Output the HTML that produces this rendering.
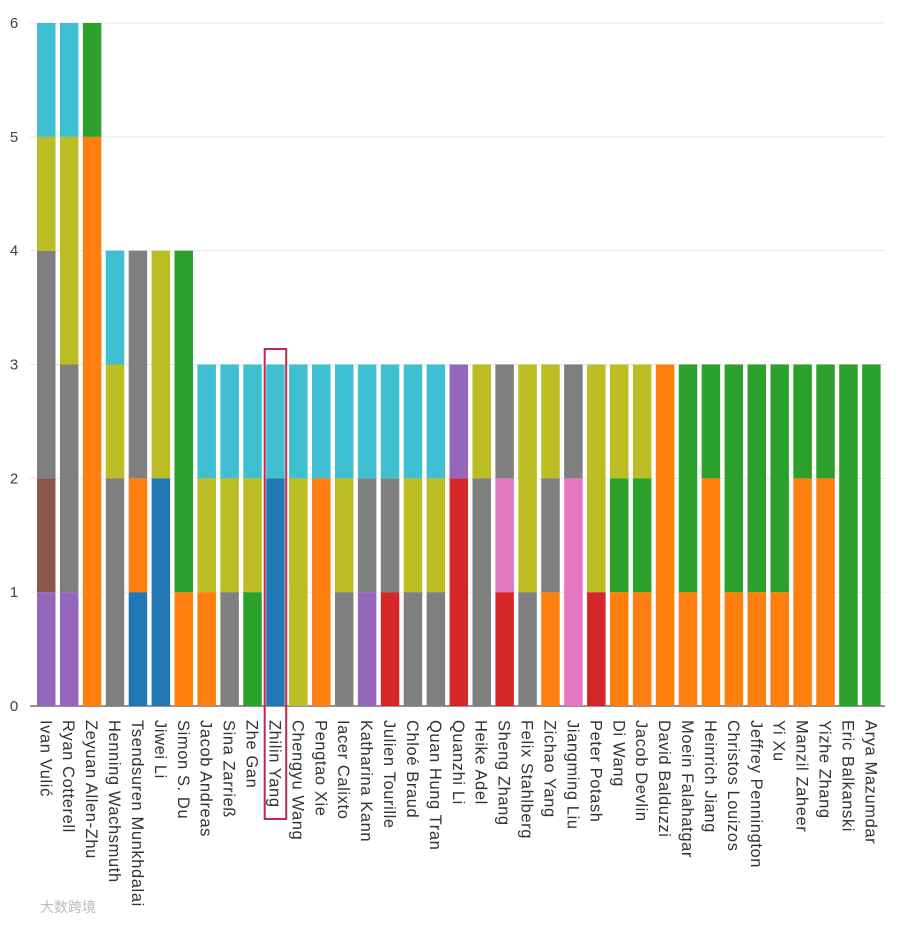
<!DOCTYPE html>
<html><head><meta charset="utf-8"><style>
html,body{margin:0;padding:0;background:#fff;}
svg text{font-family:"Liberation Sans","Noto Sans CJK SC",sans-serif;}
</style></head><body>
<svg id="chart" width="899" height="922" viewBox="0 0 899 922" xmlns="http://www.w3.org/2000/svg"></svg>
<script>
const names=["Ivan Vulić","Ryan Cotterell","Zeyuan Allen-Zhu","Henning Wachsmuth","Tsendsuren Munkhdalai","Jiwei Li","Simon S. Du","Jacob Andreas","Sina Zarrieß","Zhe Gan","Zhilin Yang","Chengyu Wang","Pengtao Xie","Iacer Calixto","Katharina Kann","Julien Tourille","Chloé Braud","Quan Hung Tran","Quanzhi Li","Heike Adel","Sheng Zhang","Felix Stahlberg","Zichao Yang","Jiangming Liu","Peter Potash","Di Wang","Jacob Devlin","David Balduzzi","Moein Falahatgar","Heinrich Jiang","Christos Louizos","Jeffrey Pennington","Yi Xu","Manzil Zaheer","Yizhe Zhang","Eric Balkanski","Arya Mazumdar"];
// segment colour keys per bar, bottom to top
const segKeys=[["purple","brown","gray","olive","cyan"],["purple","gray","olive","cyan"],["orange","green"],["gray","olive","cyan"],["blue","orange","gray"],["blue","olive"],["orange","green"],["orange","olive","cyan"],["gray","olive","cyan"],["green","olive","cyan"],["blue","cyan"],["olive","cyan"],["orange","cyan"],["gray","olive","cyan"],["purple","gray","cyan"],["red","gray","cyan"],["gray","olive","cyan"],["gray","olive","cyan"],["red","purple"],["gray","olive"],["red","pink","gray"],["gray","olive"],["orange","gray","olive"],["pink","gray"],["red","olive"],["orange","green","olive"],["orange","green","olive"],["orange"],["orange","green"],["orange","green"],["orange","green"],["orange","green"],["orange","green"],["orange","green"],["orange","green"],["green"],["green"]];
// segment values per bar, bottom to top
const segVals=[[1,1,2,1,1],[1,2,2,1],[5,1],[2,1,1],[1,1,2],[2,2],[1,3],[1,1,1],[1,1,1],[1,1,1],[2,1],[2,1],[2,1],[1,1,1],[1,1,1],[1,1,1],[1,1,1],[1,1,1],[2,1],[2,1],[1,1,1],[1,2],[1,1,1],[2,1],[1,2],[1,1,1],[1,1,1],[3],[1,2],[2,1],[1,2],[1,2],[1,2],[2,1],[2,1],[3],[3]];
const yTicks=[0,1,2,3,4,5,6];
const colors={purple:"#9467bd",brown:"#8c564b",gray:"#7f7f7f",olive:"#bcbd22",cyan:"#3ebfd2",orange:"#fe7f0e",green:"#2ca02c",blue:"#1f77b4",red:"#d62728",pink:"#e377c2"};
const svg=document.getElementById('chart');const NS="http://www.w3.org/2000/svg";
const y0=706,y6=23,x0=37,pitch=22.92,bw=18.5;
const Y=v=>y0-(y0-y6)*v/6;
const X=i=>x0+i*pitch;
function mk(t,a){const e=document.createElementNS(NS,t);for(const k in a)e.setAttribute(k,a[k]);svg.appendChild(e);return e;}
yTicks.forEach(t=>{
 const l=mk('line',{x1:30,x2:885,y1:Y(t),y2:Y(t),stroke:t===0?"#555":"#e6e6e6","stroke-width":t===0?1.2:1});
 
 
 const tx=mk('text',{x:14,y:Y(t)+5,"font-size":15,fill:"#444","text-anchor":"middle"});
 tx.textContent=t;
 
 
});
names.forEach((n,i)=>{
 let acc=0;
 segKeys[i].forEach((k,j)=>{
  const v=segVals[i][j];
  const r=mk('rect',{x:X(i),y:Y(acc+v),width:bw,height:Y(acc)-Y(acc+v),fill:colors[k]});
  
  
  acc+=v;
 });
 const cx=X(i)+bw/2;
 const t=mk('text',{x:cx-6,y:720,"font-size":16.5,"letter-spacing":0.6,fill:"#333",transform:`rotate(90 ${cx-6} 720)`});
 t.textContent=n;
 
 
});
const hi=names.indexOf("Zhilin Yang");
const box=mk('rect',{x:X(hi)-1.5,y:349,width:bw+3,height:470,fill:"none",stroke:"#c0284f","stroke-width":2});


const wm=mk('text',{x:40,y:912,"font-size":14,fill:"#bbb"});
wm.textContent="大数跨境";


</script>
</body></html>
